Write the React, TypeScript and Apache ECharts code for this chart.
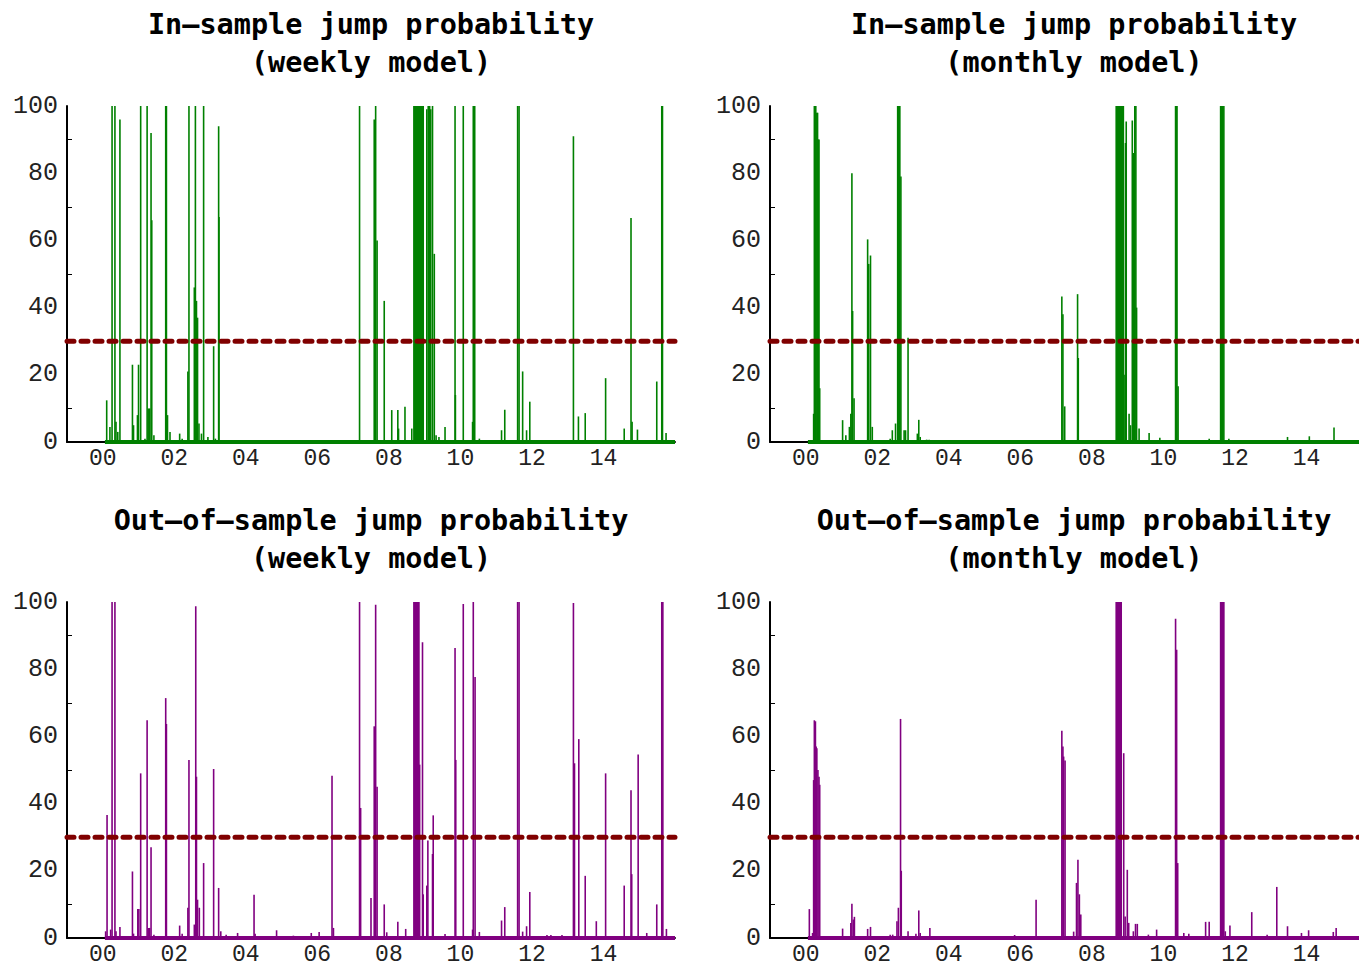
import React, { useEffect, useRef } from 'react';
import * as echarts from 'echarts';

const X_MIN = 1999;
const X_MAX = 2016;
const SERIES_START = 2000.06;
const THRESHOLD = 30;

const TITLES = [
  'In—sample jump probability\n(weekly model)',
  'In—sample jump probability\n(monthly model)',
  'Out—of—sample jump probability\n(weekly model)',
  'Out—of—sample jump probability\n(monthly model)',
];

const GREEN = '#008000';
const PURPLE = '#800080';
const RED = '#800000';

const IN_WEEKLY: [number, number][] = [
  [2000.11, 12.4], [2000.2, 4.5], [2000.26, 100], [2000.34, 100], [2000.37, 6], [2000.42, 3], [2000.48, 96],
  [2000.83, 23], [2000.86, 5], [2000.97, 8], [2001.0, 23], [2001.06, 100], [2001.18, 1], [2001.24, 100],
  [2001.27, 10], [2001.31, 10], [2001.35, 92], [2001.37, 66], [2001.43, 2], [2001.76, 100], [2001.78, 100],
  [2001.81, 8], [2001.88, 3], [2002.15, 2.5], [2002.22, 1], [2002.38, 21], [2002.41, 100], [2002.56, 46],
  [2002.59, 100], [2002.62, 42], [2002.65, 37], [2002.69, 5.5], [2002.76, 2.5], [2002.82, 100], [2002.94, 1.5],
  [2003.1, 28.5], [2003.15, 1], [2003.24, 94], [2003.25, 67],
  [2007.18, 100], [2007.59, 96], [2007.63, 100], [2007.67, 60], [2007.87, 42], [2008.08, 9.5], [2008.25, 9.5],
  [2008.27, 4], [2008.45, 10.5], [2008.64, 4],
  [2008.7, 100], [2008.72, 100], [2008.74, 100], [2008.76, 100], [2008.78, 100], [2008.8, 100], [2008.82, 100],
  [2008.84, 100], [2008.86, 100], [2008.88, 100], [2008.9, 100], [2008.92, 100], [2008.94, 100], [2008.96, 100],
  [2009.06, 99], [2009.1, 100], [2009.14, 100], [2009.17, 99], [2009.22, 100], [2009.27, 56], [2009.32, 2],
  [2009.4, 1.5], [2009.57, 4.5], [2009.85, 100], [2009.86, 14], [2010.08, 100], [2010.34, 6], [2010.36, 100],
  [2010.4, 100], [2010.53, 1], [2011.15, 3.5], [2011.24, 9.6], [2011.6, 100], [2011.64, 100], [2011.74, 21],
  [2011.85, 3.5], [2011.94, 12], [2013.16, 91], [2013.3, 7.6], [2013.49, 8.6], [2014.06, 19], [2014.58, 4],
  [2014.77, 66.7], [2014.8, 6], [2014.95, 3.7], [2015.49, 18], [2015.63, 100], [2015.65, 100], [2015.75, 2.7],
];

const IN_MONTHLY: [number, number][] = [
  [2000.22, 8.4], [2000.24, 100], [2000.26, 100], [2000.28, 100], [2000.31, 98], [2000.33, 98], [2000.35, 90],
  [2000.37, 90], [2000.39, 16], [2001.03, 6.5], [2001.12, 2], [2001.22, 4.5], [2001.26, 8.4], [2001.29, 80],
  [2001.31, 39], [2001.35, 13], [2001.73, 60.3], [2001.76, 53], [2001.81, 55.5], [2001.86, 4.5], [2002.36, 1],
  [2002.42, 3.5], [2002.51, 5.5], [2002.57, 100], [2002.59, 100], [2002.61, 100], [2002.63, 100], [2002.66, 79],
  [2002.75, 3.5], [2002.79, 3.5], [2002.86, 31], [2003.12, 2.5], [2003.16, 6.6], [2003.2, 1.5], [2003.38, 0.7],
  [2003.45, 0.7],
  [2007.16, 43.3], [2007.19, 38], [2007.24, 10.6], [2007.6, 44], [2007.62, 25],
  [2008.68, 100], [2008.7, 100], [2008.72, 100], [2008.74, 100], [2008.76, 100], [2008.78, 100], [2008.8, 100],
  [2008.82, 100], [2008.84, 100], [2008.86, 100], [2008.88, 100],
  [2008.9, 20], [2008.94, 89], [2008.96, 95.4], [2009.04, 8.4], [2009.08, 5], [2009.13, 95.7], [2009.17, 86],
  [2009.2, 100], [2009.23, 100], [2009.25, 40], [2009.32, 4], [2009.6, 2.7], [2009.9, 1.3],
  [2010.34, 100], [2010.36, 100], [2010.38, 100], [2010.41, 16.6], [2011.28, 1],
  [2011.6, 100], [2011.62, 100], [2011.64, 100], [2011.66, 100], [2011.69, 100], [2011.83, 1],
  [2013.47, 1.5], [2014.08, 1.7], [2014.77, 4.3],
];

const OUT_WEEKLY: [number, number][] = [
  [2000.08, 2], [2000.12, 36.6], [2000.22, 2.5], [2000.26, 100], [2000.34, 100], [2000.37, 2], [2000.48, 3.3],
  [2000.83, 19.8], [2000.86, 1.3], [2000.98, 8.6], [2001.01, 8.6], [2001.06, 49], [2001.24, 64.8], [2001.27, 3],
  [2001.31, 3], [2001.35, 27], [2001.43, 1], [2001.76, 71.4], [2001.78, 63.7], [2002.15, 3.7], [2002.22, 1.3],
  [2002.38, 9], [2002.41, 53], [2002.56, 4], [2002.6, 98.7], [2002.62, 48], [2002.65, 11.4], [2002.7, 9],
  [2002.82, 22.3], [2003.1, 50.3], [2003.24, 14.9], [2003.3, 2], [2003.45, 1], [2003.77, 1.5], [2004.23, 12.9],
  [2004.26, 1.3], [2004.86, 2.3], [2005.33, 0.7], [2005.83, 1.5], [2006.05, 1.8], [2006.41, 48.3], [2006.45, 3],
  [2007.18, 100], [2007.21, 38.7], [2007.5, 11.9], [2007.59, 63], [2007.63, 99.2], [2007.67, 45], [2007.87, 10],
  [2007.94, 1.7], [2008.25, 4.8], [2008.47, 2.7],
  [2008.7, 100], [2008.72, 100], [2008.74, 100], [2008.76, 100], [2008.78, 100], [2008.8, 100], [2008.82, 100],
  [2008.84, 100],
  [2008.86, 51.6], [2008.94, 88], [2008.96, 13], [2009.06, 15.6], [2009.09, 29], [2009.22, 25], [2009.24, 36.5],
  [2009.57, 1.2], [2009.85, 86.3], [2009.87, 53], [2010.08, 99.4], [2010.34, 2.5], [2010.36, 100], [2010.41, 77.7],
  [2010.53, 1.8], [2011.15, 5.2], [2011.24, 9.2], [2011.6, 100], [2011.64, 100], [2011.74, 1.9], [2011.85, 3.5],
  [2011.94, 13.7], [2012.42, 0.9], [2012.53, 0.9], [2012.84, 0.9], [2013.16, 99.7], [2013.19, 52], [2013.31, 59.2],
  [2013.49, 18.5], [2013.8, 5], [2014.06, 49], [2014.58, 15.6], [2014.77, 44], [2014.79, 19], [2014.97, 54.6],
  [2015.21, 1.5], [2015.49, 10], [2015.63, 100], [2015.66, 100], [2015.76, 2.7],
];

const OUT_MONTHLY: [number, number][] = [
  [2000.1, 8.6], [2000.19, 1.5], [2000.22, 47], [2000.24, 64.8], [2000.27, 64.5], [2000.29, 57], [2000.31, 56.5],
  [2000.34, 50], [2000.37, 48], [2000.39, 45.6], [2001.03, 2.8], [2001.26, 4.5], [2001.29, 10.2], [2001.33, 5.5],
  [2001.36, 6.3], [2001.73, 2.7], [2001.81, 3.3], [2002.36, 1], [2002.43, 1], [2002.55, 5], [2002.59, 9],
  [2002.65, 65.2], [2002.67, 20], [2002.86, 2], [2003.08, 1.3], [2003.16, 8.2], [2003.2, 1.5], [2003.47, 3],
  [2005.84, 0.9], [2006.44, 11.4], [2007.16, 61.7], [2007.19, 57], [2007.21, 54], [2007.25, 52.8], [2007.49, 1.9],
  [2007.57, 16.4], [2007.61, 23.3], [2007.65, 13], [2007.69, 7],
  [2008.68, 100], [2008.7, 100], [2008.72, 100], [2008.74, 100], [2008.76, 100], [2008.78, 100], [2008.8, 100],
  [2008.82, 100],
  [2008.89, 55], [2008.93, 6.4], [2008.99, 20.3], [2009.03, 4.5], [2009.16, 2], [2009.22, 4.2], [2009.27, 4.2],
  [2009.58, 1], [2009.81, 2.5], [2010.34, 95], [2010.37, 85.8], [2010.4, 22.3], [2010.57, 1.5], [2010.71, 1.3],
  [2011.18, 4.8], [2011.28, 4.8], [2011.6, 100], [2011.62, 100], [2011.65, 100], [2011.67, 100], [2011.69, 100],
  [2011.73, 2], [2011.86, 3.7], [2012.47, 7.7], [2012.9, 1], [2013.17, 15.2], [2013.47, 3.5], [2013.86, 1.5],
  [2014.06, 2.3], [2014.75, 1.8], [2014.83, 3],
];

const PANELS = [
  { title: TITLES[0], data: IN_WEEKLY, color: GREEN, left: 67, top: 106 },
  { title: TITLES[1], data: IN_MONTHLY, color: GREEN, left: 770, top: 106 },
  { title: TITLES[2], data: OUT_WEEKLY, color: PURPLE, left: 67, top: 602 },
  { title: TITLES[3], data: OUT_MONTHLY, color: PURPLE, left: 770, top: 602 },
];

const GRID_W = 608;
const GRID_H = 336;
const TITLE_FONT = 'DejaVu Sans Mono';
const LABEL_FONT = 'Liberation Mono';

function buildOption() {
  const title: any[] = [];
  const grid: any[] = [];
  const xAxis: any[] = [];
  const yAxis: any[] = [];
  const series: any[] = [];
  PANELS.forEach((p, i) => {
    title.push({
      text: p.title,
      left: p.left + GRID_W / 2,
      top: p.top - 101,
      textAlign: 'center',
      padding: 0,
      textStyle: { fontFamily: TITLE_FONT, fontSize: 28.5, fontWeight: 'bold', lineHeight: 38, color: '#000' },
    });
    grid.push({
      left: p.left,
      top: p.top,
      width: GRID_W,
      height: GRID_H,
      containLabel: false,
      outerBoundsMode: 'none',
    });
    xAxis.push({
      gridIndex: i,
      type: 'value',
      min: X_MIN,
      max: X_MAX,
      interval: 1,
      axisLine: { show: true, onZero: false, lineStyle: { color: '#000', width: 2 } },
      axisTick: { show: false },
      splitLine: { show: false },
      axisLabel: {
        fontFamily: LABEL_FONT,
        fontSize: 23,
        lineHeight: 23,
        color: '#222',
        margin: 5,
        formatter: (v: number) => {
          const y = Math.round(v);
          return y % 2 === 0 && y < X_MAX ? String(y).slice(2) : '';
        },
      },
    });
    yAxis.push({
      gridIndex: i,
      type: 'value',
      min: 0,
      max: 100,
      interval: 20,
      axisLine: { show: true, lineStyle: { color: '#000', width: 2 } },
      axisTick: { show: false, inside: true },
      minorTick: { show: true, splitNumber: 2, length: 5, lineStyle: { color: '#000', width: 1 } },
      splitLine: { show: false },
      minorSplitLine: { show: false },
      axisLabel: { fontFamily: LABEL_FONT, fontSize: 25, color: '#222', margin: 9 },
    });
    series.push({
      type: 'bar',
      xAxisIndex: i,
      yAxisIndex: i,
      data: p.data,
      barWidth: 1.6,
      itemStyle: { color: p.color },
      silent: true,
      z: 2,
    });
    series.push({
      type: 'line',
      xAxisIndex: i,
      yAxisIndex: i,
      data: [[SERIES_START, 0], [X_MAX, 0]],
      symbol: 'none',
      lineStyle: { color: p.color, width: 4 },
      silent: true,
      z: 3,
    });
    series.push({
      type: 'line',
      xAxisIndex: i,
      yAxisIndex: i,
      data: [[X_MIN, THRESHOLD], [X_MAX, THRESHOLD]],
      symbol: 'none',
      lineStyle: { color: RED, width: 5, type: [7, 7], cap: 'round' },
      silent: true,
      z: 4,
    });
  });
  return { animation: false, backgroundColor: '#fff', title, grid, xAxis, yAxis, series };
}

export default function App() {
  const ref = useRef<HTMLDivElement>(null);
  useEffect(() => {
    document.body.style.margin = '0';
    const chart = echarts.init(ref.current!, null, { renderer: 'svg' });
    chart.setOption(buildOption());
    return () => chart.dispose();
  }, []);
  return <div ref={ref} style={{ width: 1359, height: 966 }} />;
}
